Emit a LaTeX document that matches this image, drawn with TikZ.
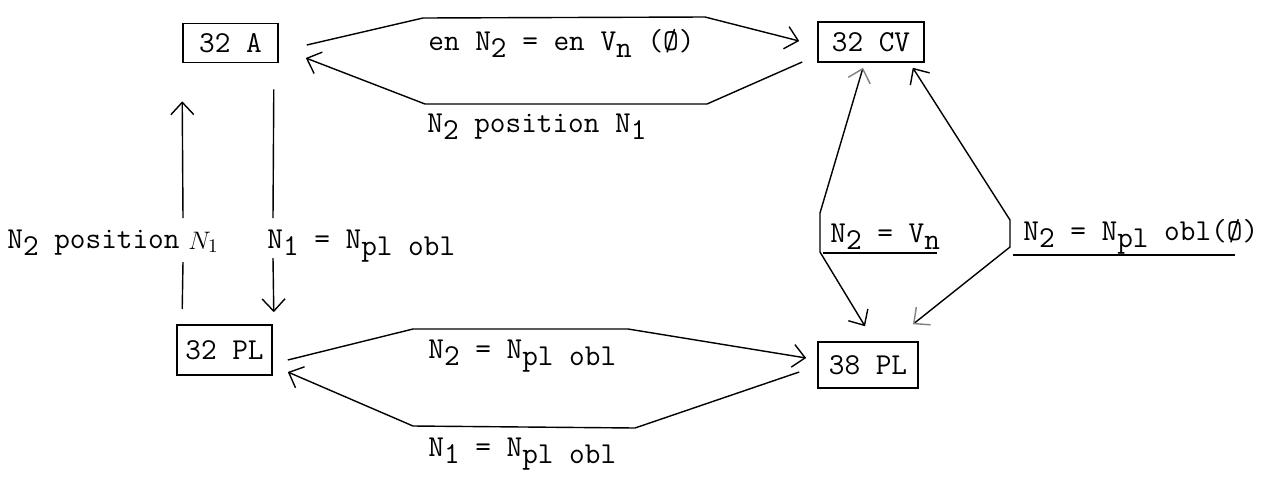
\documentclass[tikz,border=0pt]{standalone}
\usepackage{tikz}
\usetikzlibrary{arrows.meta,calc}
\newcommand\lowr[1]{\raisebox{-4pt}{#1}}

\begin{document}
\begin{tikzpicture}[x=.02cm,y=-.02cm,font=\fontsize{17.3}{20}\selectfont\ttfamily,
box/.style={draw,line width=.9pt,inner sep=0pt},
arr/.style={-{Straight Barb[length=7pt,width=13pt]},line width=.8pt},
twoway/.style={{Straight Barb[length=7pt,width=13pt,color=gray]}-{Straight Barb[length=7pt,width=13pt]},line width=.8pt},
lbl/.style={anchor=base west,inner sep=0pt}]
\useasboundingbox(0,0)rectangle(1272,484);

\node[box,minimum width=1.9cm,minimum height=.78cm](a32)at(230.5,43){32 A};
\node[box,minimum width=2.12cm,minimum height=.8cm](cv32)at(871,42){32 CV};
\node[box,minimum width=1.9cm,minimum height=1cm](pl32)at(224.5,350){32 PL};
\node[box,minimum width=2cm,minimum height=.92cm](pl38)at(868,365){38 PL};

\draw[arr]($(a32.east)+(28,2)$)--(423,18)--(705,17)--($(cv32.west)+(-18,-1)$);
\draw[arr]($(cv32.west)+(-15,20)$)--(707,104)--(425,104)--($(a32.east)+(27,15)$);
\draw[arr]($(pl32.east)+(15,10)$)--(413,329)--(628,329)--($(pl38.west)+(-11,-7)$);
\draw[arr]($(pl38.west)+(-18,7)$)--(635,428)--(413,426)--($(pl32.east)+(15,22)$);
\draw[arr]($(pl32.north west)+(6,-15)$)--(183,262)(183,218)--($(a32.south west)+(0,38)$);
\draw[arr]($(a32.south east)+(-5,26)$)--(273,218)(273,258)--($(pl32.north east)+(1,-12)$);
\draw[twoway]($(cv32.south)+(-8,5)$)--(820,213)--(820,252)--($(pl38.north)+(-3,-15)$);
\draw[twoway]($(pl38.north)+(45,-17)$)--(1010,247)--(1010,220)--($(cv32.south east)+(-12,5)$);

\node[lbl](enN)at(428,50){en N\lowr{2} = en V\lowr{n} (Ø)};
\node[lbl](posA)at(427,132){N\lowr{2} position N\lowr{1}};
\node[lbl](posL)at(7,248){N\lowr{2} position};
\node[lbl,font=\fontsize{15}{15}\selectfont](hand)at(188,249){$N_1$};
\node[lbl](oblA)at(267,248){N\lowr{1} = N\lowr{pl obl}};
\node[lbl](oblB)at(428,358){N\lowr{2} = N\lowr{pl obl}};
\node[lbl](oblC)at(428,456){N\lowr{1} = N\lowr{pl obl}};
\node[lbl](vn)at(830,242){N\lowr{2} = V\lowr{n}};
\node[lbl](npl)at(1023,240){N\lowr{2} = N\lowr{pl} obl(Ø)};
\draw[line width=.8pt](823,253)--(937,253);
\draw[line width=.8pt](1013,255)--(1235,255);
\end{tikzpicture}
\end{document}
